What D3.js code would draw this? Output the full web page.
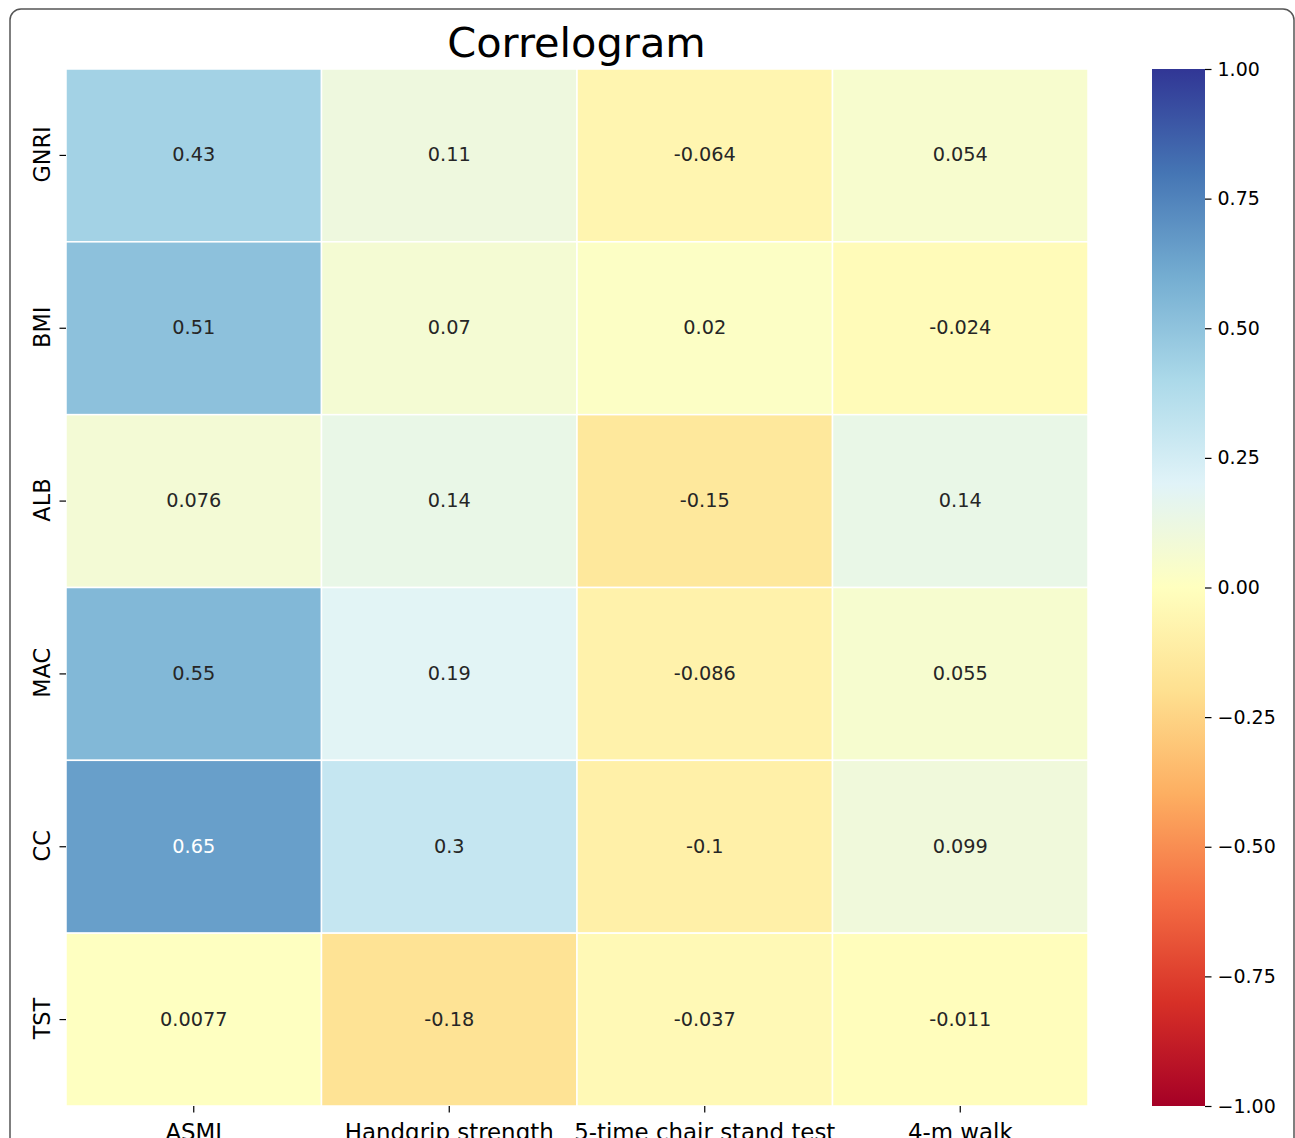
<!DOCTYPE html>
<html>
<head>
<meta charset="utf-8">
<script src="https://cdn.jsdelivr.net/npm/d3@7"></script>
<style>
  html, body { margin: 0; padding: 0; background: #fff; }
  svg { display: block; font-family: "DejaVu Sans", sans-serif; }
</style>
</head>
<body>
<svg id="chart" width="1295" height="1138"></svg>
<script>
const rowLabels = ["GNRI", "BMI", "ALB", "MAC", "CC", "TST"];
const colLabels = ["ASMI", "Handgrip strength", "5-time chair stand test", "4-m walk"];
const gnriValues = [0.43, 0.11, -0.064, 0.054];
const bmiValues  = [0.51, 0.07, 0.02, -0.024];
const albValues  = [0.076, 0.14, -0.15, 0.14];
const macValues  = [0.55, 0.19, -0.086, 0.055];
const ccValues   = [0.65, 0.3, -0.1, 0.099];
const tstValues  = [0.0077, -0.18, -0.037, -0.011];
const colorbarTicks = [-1, -0.75, -0.5, -0.25, 0, 0.25, 0.5, 0.75, 1];
const titleText = "Correlogram";

(function () {
const matrix = [gnriValues, bmiValues, albValues, macValues, ccValues, tstValues];
const cells = [];
matrix.forEach((row, i) => row.forEach((v, j) => cells.push({ row: rowLabels[i], col: colLabels[j], v })));

const svg = d3.select("#chart");

// Figure frame
svg.append("rect")
  .attr("x", 10).attr("y", 9).attr("width", 1284).attr("height", 1160)
  .attr("rx", 11).attr("ry", 11)
  .attr("fill", "#fff").attr("stroke", "#555").attr("stroke-width", 1.5);

const pL = 66, pR = 1088, pT = 69, pB = 1106;

const x = d3.scaleBand().domain(colLabels).range([pL, pR]);
const y = d3.scaleBand().domain(rowLabels).range([pT, pB]);

// Matplotlib-like RdYlBu (piecewise linear through 11 anchor colours)
const anchors = d3.schemeRdYlBu[11];
const color = d3.scaleLinear()
  .domain(d3.range(11).map(i => -1 + 2 * i / 10))
  .range(anchors)
  .interpolate(d3.interpolateRgb)
  .clamp(true);

function lum(c) {
  const rgb = d3.rgb(c);
  const f = u => { u /= 255; return u <= 0.03928 ? u / 12.92 : Math.pow((u + 0.055) / 1.055, 2.4); };
  return 0.2126 * f(rgb.r) + 0.7152 * f(rgb.g) + 0.0722 * f(rgb.b);
}
const fmt = d3.format(".2~g");

const g = svg.append("g");
g.selectAll("rect.cell").data(cells).join("rect")
  .attr("class", "cell")
  .attr("x", d => x(d.col)).attr("y", d => y(d.row))
  .attr("width", x.bandwidth()).attr("height", y.bandwidth())
  .attr("fill", d => color(d.v))
  .attr("stroke", "#fff").attr("stroke-width", 1.5);

g.selectAll("text.ann").data(cells).join("text")
  .attr("class", "ann")
  .attr("x", d => x(d.col) + x.bandwidth() / 2)
  .attr("y", d => y(d.row) + y.bandwidth() / 2 - 1)
  .attr("text-anchor", "middle").attr("dy", "0.36em")
  .attr("font-size", 19.3)
  .attr("fill", d => lum(color(d.v)) > 0.408 ? "#262626" : "#fff")
  .text(d => fmt(d.v).replace("\u2212", "-"));

// Axes
const xAxis = svg.append("g").attr("transform", `translate(0,${pB})`)
  .call(d3.axisBottom(x).tickSize(6.5).tickPadding(11));
xAxis.select(".domain").remove();
xAxis.selectAll("line").attr("stroke", "#000").attr("stroke-width", 1.2);
xAxis.selectAll("text").attr("font-size", 22.9).attr("fill", "#000")
  .attr("font-family", "DejaVu Sans, sans-serif").attr("dy", "0.71em");

const yAxis = svg.append("g").attr("transform", `translate(${pL},0)`)
  .call(d3.axisLeft(y).tickSize(6.5).tickPadding(0));
yAxis.select(".domain").remove();
yAxis.selectAll("line").attr("stroke", "#000").attr("stroke-width", 1.2);
yAxis.selectAll("text")
  .attr("font-size", 22.4).attr("fill", "#000")
  .attr("font-family", "DejaVu Sans, sans-serif")
  .attr("text-anchor", "middle")
  .attr("x", 0).attr("dy", 0)
  .attr("transform", "translate(-16.5,-1) rotate(-90)");

// Title
svg.append("text")
  .attr("x", (pL + pR) / 2 - 0.5).attr("y", 57)
  .attr("text-anchor", "middle").attr("font-size", 41.5).attr("fill", "#000")
  .text(titleText);

// Colorbar
const cbX = 1152, cbW = 53;
const cScale = d3.scaleLinear().domain([-1, 1]).range([pB, pT]);
const defs = svg.append("defs");
const grad = defs.append("linearGradient").attr("id", "cbgrad")
  .attr("x1", 0).attr("y1", 1).attr("x2", 0).attr("y2", 0);
color.domain().forEach((dv, i) => {
  grad.append("stop").attr("offset", (i / 10)).attr("stop-color", color(dv));
});
svg.append("rect")
  .attr("x", cbX).attr("y", pT).attr("width", cbW).attr("height", pB - pT)
  .attr("fill", "url(#cbgrad)");

const cAxis = svg.append("g").attr("transform", `translate(${cbX + cbW},0)`)
  .call(d3.axisRight(cScale).tickValues(colorbarTicks).tickFormat(d3.format(".2f")).tickSize(6.5).tickPadding(6));
cAxis.select(".domain").remove();
cAxis.selectAll("line").attr("stroke", "#000").attr("stroke-width", 1.2);
cAxis.selectAll("text").attr("font-size", 19).attr("fill", "#000")
  .attr("font-family", "DejaVu Sans, sans-serif");
})();
</script>
</body>
</html>
